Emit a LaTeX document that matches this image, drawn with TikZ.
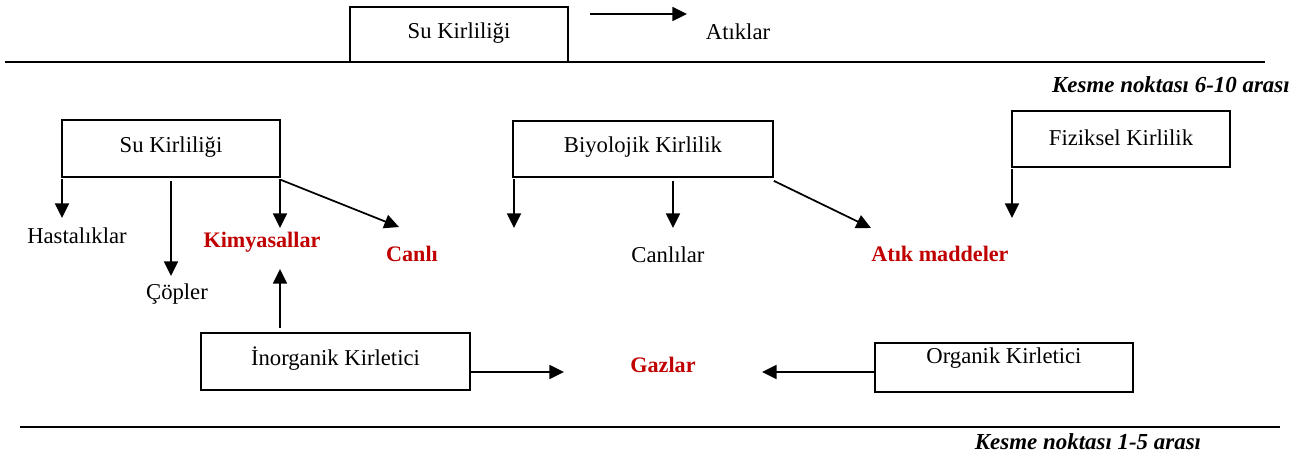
\documentclass[tikz,border=0pt]{standalone}
\usepackage{fontspec}
\setmainfont{Liberation Serif}
\usetikzlibrary{arrows.meta,calc}
\definecolor{kred}{RGB}{192,0,0}
\begin{document}
\begin{tikzpicture}[x=0.75pt,y=-0.75pt,
  every node/.style={font=\fontsize{17}{20}\selectfont, inner sep=0pt},
  box/.style={draw, line width=1.3pt, rectangle},
  red/.style={text=kred, font=\fontsize{16.6}{20}\selectfont\bfseries},
  cut/.style={font=\fontsize{17.2}{20}\selectfont\bfseries\itshape},
  arr/.style={line width=1.3pt, -{Triangle[length=11pt,width=10.5pt]}},
  rule/.style={line width=1.4pt}]
\useasboundingbox (0,0) rectangle (1303,457);

% top part
\node[box, minimum width=163.5pt, minimum height=41.25pt] (topbox) at (459,34.5) {};
\node (topboxT) at (459,33) {Su Kirliliği};
\coordinate (ta) at (590,14);
\coordinate (tb) at (687,14);
\draw[arr] (ta) -- (tb);
\node (atiklar) at (738,32) {Atıklar};
\coordinate (r1a) at (5,62);
\coordinate (r1b) at (1265,62);
\draw[rule] (r1a) -- (r1b);
\node[cut, anchor=east] (cut1) at (1290,85) {Kesme noktası 6-10 arası};

% boxes middle
\node[box, minimum width=163.5pt, minimum height=42.75pt] (su) at (171,148.5) {};
\node (suT) at (171,147.5) {Su Kirliliği};
\node[box, minimum width=195pt, minimum height=42pt] (bio) at (643,149) {};
\node (bioT) at (643,147.5) {Biyolojik Kirlilik};
\node[box, minimum width=163.5pt, minimum height=42pt] (fiz) at (1121,139) {};
\node (fizT) at (1121,137.5) {Fiziksel Kirlilik};

% texts
\node (hast) at (77,236) {Hastalıklar};
\node (copler) at (177,294) {Çöpler};
\node[red] (kimya) at (262,242) {Kimyasallar};
\node[red] (canli) at (412,254) {Canlı};
\node (canlilar) at (668,255) {Canlılar};
\node[red] (atik) at (940,254) {Atık maddeler};

% arrows from Su Kirliliği
\coordinate (e1) at (62,218);
\coordinate (e2) at (171,276);
\coordinate (e3) at (280,228);
\coordinate (e4) at (399,227);
\draw[arr] ($(e1 |- su.south)+(0,1)$) -- (e1);
\draw[arr] ($(e2 |- su.south)+(0,3)$) -- (e2);
\draw[arr] ($(e3 |- su.south)+(0,1)$) -- (e3);
\draw[arr] ($(su.south east)+(0,2)$) -- (e4);

% arrows from Biyolojik
\coordinate (b1) at (514,228);
\coordinate (b2) at (673,228);
\coordinate (b3) at (871,228);
\draw[arr] ($(b1 |- bio.south)+(0,1)$) -- (b1);
\draw[arr] ($(b2 |- bio.south)+(0,3)$) -- (b2);
\draw[arr] ($(bio.south east)+(0,3)$) -- (b3);

% arrow from Fiziksel
\coordinate (f1) at (1012,218);
\draw[arr] ($(f1 |- fiz.south)+(0,1)$) -- (f1);

% bottom
\node[box, minimum width=201.75pt, minimum height=42.75pt] (inorg) at (335.5,361.5) {};
\node (inorgT) at (335.5,359) {İnorganik Kirletici};
\node[box, minimum width=193.5pt, minimum height=36.75pt] (org) at (1004,367.5) {};
\node (orgT) at (1004,358) {Organik Kirletici};
\node[red] (gaz) at (663,365) {Gazlar};
\coordinate (k1) at (280,269);
\draw[arr] ($(k1 |- inorg.north)+(0,-4)$) -- (k1);
\coordinate (g1) at (564,372);
\coordinate (g2) at (762,372);
\draw[arr] (inorg.east |- g1) -- (g1);
\draw[arr] (org.west |- g2) -- (g2);

\coordinate (r2a) at (20,427);
\coordinate (r2b) at (1280,427);
\draw[rule] (r2a) -- (r2b);
\node[cut] (cut2) at (1088,442) {Kesme noktası 1-5 arası};
\end{tikzpicture}
\end{document}
